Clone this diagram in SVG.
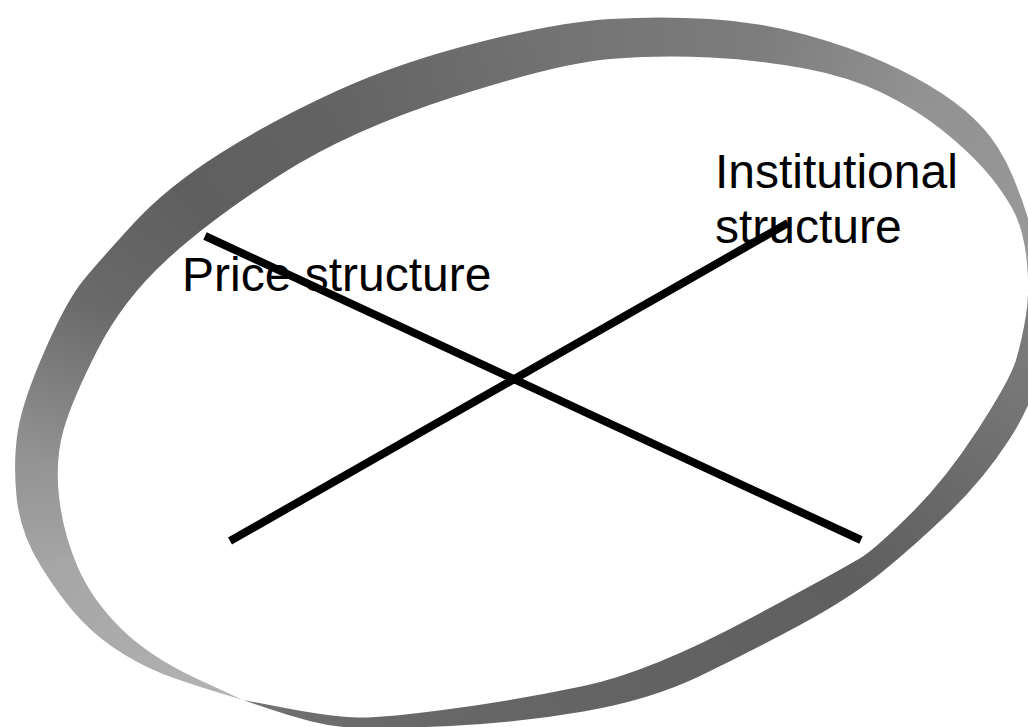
<svg xmlns="http://www.w3.org/2000/svg" width="1028" height="727" viewBox="0 0 1028 727">
<style>
.lbl{font-family:"Liberation Sans",Arial,sans-serif;font-size:48px;fill:#000}
.ln{stroke:#000;stroke-width:8;stroke-linecap:butt;fill:none}
.w{shape-rendering:crispEdges}
</style>
<defs>
<clipPath id="ringClip">
<path clip-rule="evenodd" d="M243,700 L221.5,693.5 Q200,687 175,678.5 Q150,670 125,655 Q100,640 81,620 Q62,600 41,566.5 Q20,533 16.5,496.5 Q13,460 18,430 Q23,400 45,350 Q67,300 83.5,280 Q100,260 133.5,223.5 Q167,187 220,153.5 Q273,120 336.5,91 Q400,62 480,42 Q560,22 610,19 Q660,16 710,19 Q760,22 805,34.5 Q850,47 883.5,62 Q917,77 942,93.5 Q967,110 983.5,128.5 Q1000,147 1011.5,173.5 Q1023,200 1031.5,230 Q1040,260 1042.5,295 Q1045,330 1040,365 Q1035,400 1009,440 Q983,480 948,513.5 Q913,547 881.5,572.5 Q850,598 800,625 Q750,652 700,676 Q650,700 583.5,711.5 Q517,723 450,726 Q383,729 358,728 Q333,727 311.5,721.5 Q290,716 266.5,708 Z M243,700 L196.5,678.5 Q150,657 121,628.5 Q92,600 77.5,566.5 Q63,533 59,496.5 Q55,460 63.5,430 Q72,400 97.5,350 Q123,300 166.5,260 Q210,220 280,175 Q350,130 455,96.5 Q560,63 610,59 Q660,55 710,57.5 Q760,60 805,68.5 Q850,77 883.5,93.5 Q917,110 942,130 Q967,150 983.5,168.5 Q1000,187 1011.5,207 Q1023,227 1026.5,258.5 Q1030,290 1026,315 Q1022,340 1016,360 Q1010,380 977.5,430 Q945,480 911,513.5 Q877,547 863.5,556 Q850,565 750,618.5 Q650,672 583.5,686 Q517,700 450,709 Q383,718 358,717.5 Q333,717 288,708.5 Z"/>
</clipPath>
<linearGradient id="g0" gradientUnits="userSpaceOnUse" x1="243" y1="700" x2="150" y2="665"><stop offset="0" stop-color="#b4b4b4"/><stop offset="1" stop-color="#adadad"/></linearGradient>
<linearGradient id="g1" gradientUnits="userSpaceOnUse" x1="150" y1="665" x2="40" y2="565"><stop offset="0" stop-color="#adadad"/><stop offset="1" stop-color="#a5a5a5"/></linearGradient>
<linearGradient id="g2" gradientUnits="userSpaceOnUse" x1="40" y1="565" x2="33" y2="460"><stop offset="0" stop-color="#a5a5a5"/><stop offset="1" stop-color="#939393"/></linearGradient>
<linearGradient id="g3" gradientUnits="userSpaceOnUse" x1="33" y1="460" x2="90" y2="305"><stop offset="0" stop-color="#939393"/><stop offset="1" stop-color="#6a6a6a"/></linearGradient>
<linearGradient id="g4" gradientUnits="userSpaceOnUse" x1="90" y1="305" x2="190" y2="200"><stop offset="0" stop-color="#6a6a6a"/><stop offset="1" stop-color="#5f5f5f"/></linearGradient>
<linearGradient id="g5" gradientUnits="userSpaceOnUse" x1="190" y1="200" x2="330" y2="110"><stop offset="0" stop-color="#5f5f5f"/><stop offset="1" stop-color="#636363"/></linearGradient>
<linearGradient id="g6" gradientUnits="userSpaceOnUse" x1="330" y1="110" x2="560" y2="42"><stop offset="0" stop-color="#636363"/><stop offset="1" stop-color="#737373"/></linearGradient>
<linearGradient id="g7" gradientUnits="userSpaceOnUse" x1="560" y1="42" x2="760" y2="40"><stop offset="0" stop-color="#737373"/><stop offset="1" stop-color="#7d7d7d"/></linearGradient>
<linearGradient id="g8" gradientUnits="userSpaceOnUse" x1="760" y1="40" x2="920" y2="95"><stop offset="0" stop-color="#7d7d7d"/><stop offset="1" stop-color="#929292"/></linearGradient>
<linearGradient id="g9" gradientUnits="userSpaceOnUse" x1="920" y1="95" x2="1035" y2="290"><stop offset="0" stop-color="#929292"/><stop offset="1" stop-color="#999999"/></linearGradient>
<linearGradient id="g10" gradientUnits="userSpaceOnUse" x1="1035" y1="290" x2="1025" y2="390"><stop offset="0" stop-color="#7c7c7c"/><stop offset="1" stop-color="#777777"/></linearGradient>
<linearGradient id="g11" gradientUnits="userSpaceOnUse" x1="1025" y1="390" x2="960" y2="490"><stop offset="0" stop-color="#777777"/><stop offset="1" stop-color="#6a6a6a"/></linearGradient>
<linearGradient id="g12" gradientUnits="userSpaceOnUse" x1="960" y1="490" x2="860" y2="590"><stop offset="0" stop-color="#6a6a6a"/><stop offset="1" stop-color="#5f5f5f"/></linearGradient>
<linearGradient id="g13" gradientUnits="userSpaceOnUse" x1="860" y1="590" x2="650" y2="690"><stop offset="0" stop-color="#5f5f5f"/><stop offset="1" stop-color="#636363"/></linearGradient>
<linearGradient id="g14" gradientUnits="userSpaceOnUse" x1="650" y1="690" x2="450" y2="720"><stop offset="0" stop-color="#636363"/><stop offset="1" stop-color="#676767"/></linearGradient>
<linearGradient id="g15" gradientUnits="userSpaceOnUse" x1="450" y1="720" x2="320" y2="718"><stop offset="0" stop-color="#676767"/><stop offset="1" stop-color="#6d6d6d"/></linearGradient>
<linearGradient id="g16" gradientUnits="userSpaceOnUse" x1="320" y1="718" x2="243" y2="700"><stop offset="0" stop-color="#6d6d6d"/><stop offset="1" stop-color="#747474"/></linearGradient>
</defs>
<rect width="1028" height="727" fill="#fff"/>
<g id="ring" clip-path="url(#ringClip)">
<polygon class="w" fill="url(#g0)" points="530,380 -618,1660 -990,1520"/>
<polygon class="w" fill="url(#g1)" points="530,380 -990,1520 -1430,1120"/>
<polygon class="w" fill="url(#g2)" points="530,380 -1430,1120 -1458,700"/>
<polygon class="w" fill="url(#g3)" points="530,380 -1458,700 -1230,80"/>
<polygon class="w" fill="url(#g4)" points="530,380 -1230,80 -830,-340"/>
<polygon class="w" fill="url(#g5)" points="530,380 -830,-340 -270,-700"/>
<polygon class="w" fill="url(#g6)" points="530,380 -270,-700 650,-972"/>
<polygon class="w" fill="url(#g7)" points="530,380 650,-972 1450,-980"/>
<polygon class="w" fill="url(#g8)" points="530,380 1450,-980 2090,-760"/>
<polygon class="w" fill="url(#g9)" points="530,380 2090,-760 2550,20"/>
<polygon class="w" fill="url(#g10)" points="530,380 2550,20 2510,420"/>
<polygon class="w" fill="url(#g11)" points="530,380 2510,420 2250,820"/>
<polygon class="w" fill="url(#g12)" points="530,380 2250,820 1850,1220"/>
<polygon class="w" fill="url(#g13)" points="530,380 1850,1220 1010,1620"/>
<polygon class="w" fill="url(#g14)" points="530,380 1010,1620 210,1740"/>
<polygon class="w" fill="url(#g15)" points="530,380 210,1740 -310,1732"/>
<polygon class="w" fill="url(#g16)" points="530,380 -310,1732 -618,1660"/>
</g>
<g id="price-structure">
<text class="lbl" x="182" y="291">Price structure</text>
</g>
<g id="institutional-structure">
<text class="lbl" x="715" y="188">Institutional</text>
<text class="lbl" x="715" y="243">structure</text>
</g>
<g id="connectors">
<line class="ln" x1="205" y1="236" x2="861" y2="540"/>
<line class="ln" x1="230" y1="541" x2="788" y2="223"/>
</g>
</svg>
